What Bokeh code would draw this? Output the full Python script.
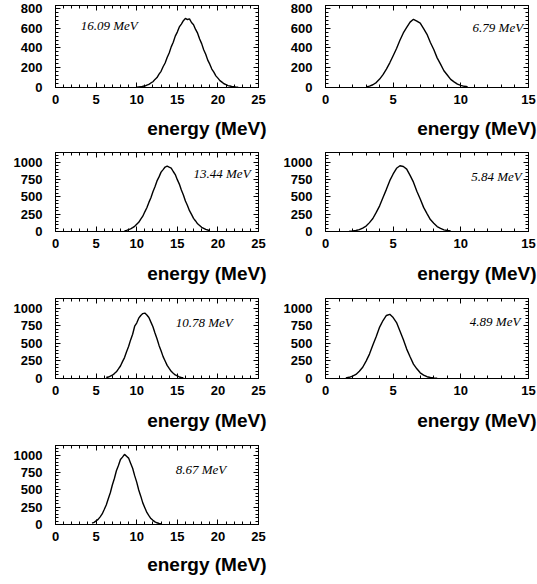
from bokeh.plotting import figure
from bokeh.layouts import column, row
from bokeh.models import LinearAxis, Title, Label, FixedTicker, Range1d
from bokeh.embed import file_html
from bokeh.resources import INLINE

# ---------------- data (counts per 0.25 MeV bin) ----------------
BIN_WIDTH = 0.25

beam_labels = ["16.09 MeV", "6.79 MeV", "13.44 MeV", "5.84 MeV",
               "10.78 MeV", "4.89 MeV", "8.67 MeV"]
axis_title = "energy (MeV)"

# first bin centre (MeV) for each panel
bin_start = [10.0, 3.0, 8.5, 1.75, 6.25, 1.5, 4.5]

counts_16_09 = [2, 5, 7, 12, 15, 24, 31, 46, 58, 82, 101, 136, 164, 210, 248, 304, 350, 411,
                458, 520, 561, 613, 642, 676, 700, 688, 694, 658, 636, 588, 550, 491, 444, 382,
                336, 277, 236, 187, 156, 118, 95, 69, 54, 38, 29, 19, 15, 9, 7, 4, 2]
counts_6_79 = [6, 14, 28, 50, 85, 130, 186, 250, 322, 395, 478, 552, 608, 662, 690, 672, 652,
               596, 538, 456, 384, 300, 236, 170, 126, 82, 57, 34, 22, 12, 7]
counts_13_44 = [12, 17, 28, 38, 55, 74, 103, 132, 178, 221, 284, 342, 420, 488, 575, 646, 730,
                788, 857, 893, 930, 942, 928, 915, 866, 822, 748, 684, 598, 527, 440, 375, 301,
                248, 190, 152, 111, 87, 60, 45, 30, 22, 13]
counts_5_84 = [4, 8, 15, 27, 50, 78, 128, 188, 275, 370, 492, 608, 734, 830, 912, 948, 938, 900,
               810, 712, 582, 468, 348, 258, 172, 118, 71, 45, 24, 14, 7]
counts_10_78 = [14, 21, 33, 47, 70, 95, 136, 178, 240, 298, 381, 455, 550, 630, 745, 790, 860,
                898, 925, 932, 905, 870, 803, 738, 648, 567, 472, 396, 312, 250, 187, 144, 102,
                75, 50, 36, 22, 15, 9]
counts_4_89 = [9, 17, 34, 58, 103, 160, 248, 348, 478, 600, 733, 826, 898, 915, 868, 797, 677,
               556, 419, 309, 205, 138, 81, 49, 25, 14, 7, 3]
counts_8_67 = [20, 31, 52, 73, 111, 152, 216, 281, 372, 458, 570, 664, 775, 852, 938, 972, 1012,
               985, 958, 884, 812, 705, 611, 498, 409, 312, 243, 174, 128, 86, 60, 38, 25, 14, 9]

all_counts = [counts_16_09, counts_6_79, counts_13_44, counts_5_84,
              counts_10_78, counts_4_89, counts_8_67]

x_max = [25, 15, 25, 15, 25, 15, 25]
x_ticks_wide = [0, 5, 10, 15, 20, 25]
x_ticks_narrow = [0, 5, 10, 15]
y_ticks_top = [0, 200, 400, 600, 800]
y_ticks_lower = [0, 250, 500, 750, 1000]
y_max_top = 830
y_max_lower = 1140

# ---------------- layout / style ----------------
FONT = "Liberation Sans"
LABEL_FONT = "Liberation Serif"

# per row: figure height, top border, frame height, title standoff
row_geom = [(148, 5, 82, 19), (146, 4, 79, 21), (147, 4, 80, 21), (143, 4, 79, 17)]
# per column: figure width, left border, right border
col_geom = [(268, 55, 10), (269, 57, 9)]

# energy label placement (data coords) and alignment
label_pos = [(3.1, 628, "left"), (14.6, 606, "right"), (17.0, 837, "left"),
             (14.5, 798, "right"), (14.8, 798, "left"), (14.4, 812, "right"),
             (14.8, 798, "left")]


def style_axis(ax, labels=True, size="13px", standoff=8):
    ax.major_tick_in = 5
    ax.major_tick_out = 0
    ax.minor_tick_in = 3
    ax.minor_tick_out = 0
    ax.axis_line_color = "black"
    ax.major_tick_line_color = "black"
    ax.minor_tick_line_color = "black"
    ax.major_label_text_color = "black"
    ax.major_label_text_font = FONT
    ax.major_label_text_font_style = "bold"
    ax.major_label_text_font_size = size
    ax.major_label_standoff = standoff
    if not labels:
        ax.major_label_overrides = {t: "" for t in ax.ticker.ticks}
        ax.major_label_standoff = 0


def make_panel(i):
    r, c = divmod(i, 2)
    h, top, frame_h, title_standoff = row_geom[r]
    w, bl, br = col_geom[c]
    xm = x_max[i]
    ym = y_max_top if r == 0 else y_max_lower
    xt = x_ticks_wide if xm == 25 else x_ticks_narrow
    yt = y_ticks_top if r == 0 else y_ticks_lower
    ystep = yt[1] / 5
    x_minor = list(range(0, xm + 1))
    y_minor = [k * ystep for k in range(int(ym / ystep) + 1)]

    p = figure(width=w, height=h, x_range=Range1d(0, xm), y_range=Range1d(0, ym),
               output_backend="svg", toolbar_location=None,
               min_border_left=bl, min_border_right=br, min_border_top=top,
               min_border_bottom=h - top - frame_h)
    p.grid.visible = False
    p.outline_line_color = "black"
    p.outline_line_width = 1
    p.background_fill_color = "white"
    p.border_fill_color = "white"

    xtick = FixedTicker(ticks=xt, minor_ticks=x_minor)
    ytick = FixedTicker(ticks=yt, minor_ticks=y_minor)
    p.xaxis.ticker = xtick
    p.yaxis.ticker = ytick
    style_axis(p.xaxis[0], True, "13px", 7)
    style_axis(p.yaxis[0], True, "13px", 13)

    ax_r = LinearAxis(ticker=FixedTicker(ticks=yt, minor_ticks=y_minor))
    style_axis(ax_r, False)
    p.add_layout(ax_r, "right")
    ax_t = LinearAxis(ticker=FixedTicker(ticks=xt, minor_ticks=x_minor))
    style_axis(ax_t, False)
    p.add_layout(ax_t, "above")

    counts = all_counts[i]
    centres = [bin_start[i] + BIN_WIDTH * k for k in range(len(counts))]
    p.line(x=centres, y=counts, line_color="black", line_width=1.4)

    lx, ly, la = label_pos[i]
    p.add_layout(Label(x=lx, y=ly, text=beam_labels[i], text_font=LABEL_FONT,
                       text_font_style="italic", text_font_size="13px",
                       text_align=la, text_baseline="middle", text_color="black"))

    p.add_layout(Title(text=axis_title, align="right", offset=-8, standoff=title_standoff,
                       text_font=FONT, text_font_style="bold", text_font_size="19px",
                       text_color="black"), "below")
    return p


panels = [make_panel(i) for i in range(7)]
layout = column(row(panels[0], panels[1]), row(panels[2], panels[3]),
                row(panels[4], panels[5]), row(panels[6]))

open("out.html", "w").write(file_html(layout, INLINE))
